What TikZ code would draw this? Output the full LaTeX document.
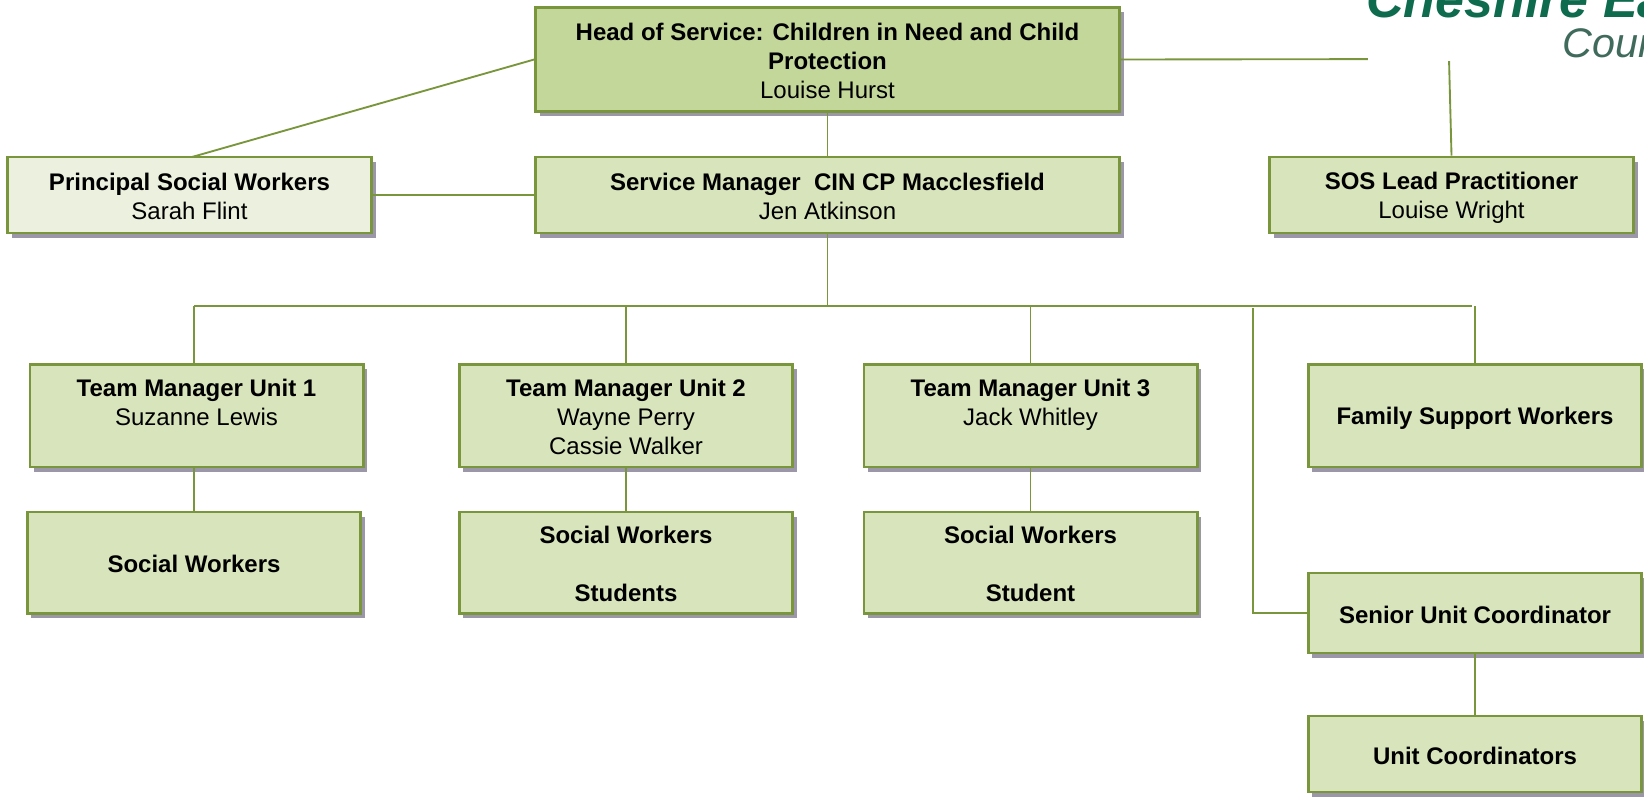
\documentclass[tikz,border=0pt]{standalone}
\usepackage{fontspec}
\setmainfont{Liberation Sans}
\usetikzlibrary{positioning,shadows}
\definecolor{boxline}{HTML}{7A963C}
\definecolor{boxfill}{HTML}{D8E4BC}
\definecolor{headfill}{HTML}{C4D79B}
\definecolor{paleFill}{HTML}{EBF1DE}
\definecolor{boxshade}{HTML}{9C97A8}
\definecolor{logogreen}{HTML}{0E6B4E}
\definecolor{logogrey}{HTML}{3F6A5C}
\newcommand{\boxstrut}{\rule[-2.2pt]{0pt}{19.4pt}}
\newcommand{\lead}[1]{\boxstrut\textbf{#1}}
\newcommand{\who}[1]{\boxstrut #1}
\tikzset{orgbox/.style={rectangle, draw=boxline, line width=2pt, fill=boxfill, align=center, inner sep=0pt,
	font=\fontsize{18}{21.6}\selectfont, text=black,
	drop shadow={shadow xshift=3pt, shadow yshift=-3.5pt, opacity=1, fill=boxshade}}}
\tikzset{wideunit/.style={orgbox, minimum width=250pt}}
\tikzset{sidebox/.style={orgbox, minimum width=273pt, minimum height=57pt}}
\tikzset{conn/.style={draw=boxline, line width=1.4pt}}
\begin{document}
\begin{tikzpicture}[x=0.75pt,y=-0.75pt]
\clip (0,0) rectangle (1644,796);
	\node[sidebox,fill=headfill,minimum width=438pt,minimum height=78pt] at (827.5, 59.5) (head) {\lead{Head of Service: Children in Need and Child}\\
		\lead{Protection}\\
		\who{Louise Hurst}};
	\node[sidebox,minimum width=438pt] at (827.5, 195) (service) {\lead{Service Manager\ \ CIN CP Macclesfield}\\
		\who{Jen Atkinson}};
	\node[sidebox,fill=paleFill] at (189.5, 195) (principal) {\lead{Principal Social Workers}\\
		\who{Sarah Flint}};
	\node[sidebox] at (1451.5, 195) (sos) {\lead{SOS Lead Practitioner}\\
		\who{Louise Wright}};

	\node[wideunit,minimum height=77pt] at (196.5, 415.5) (team1) {\lead{Team Manager Unit 1}\\
		\who{Suzanne Lewis}\\ \boxstrut};
	\node[wideunit,minimum height=77pt] at (626, 415.5) (team2) {\lead{Team Manager Unit 2}\\
		\who{Wayne Perry}\\
		\who{Cassie Walker}};
	\node[wideunit,minimum height=77pt] at (1030.5, 415.5) (team3) {\lead{Team Manager Unit 3}\\
		\who{Jack Whitley}\\ \boxstrut};
	\node[wideunit,minimum height=77pt] at (1475, 415.5) (family) {\lead{Family Support Workers}};

	\node[wideunit,minimum height=76pt] at (194, 562.5) (social1) {\lead{Social Workers}};
	\node[wideunit,minimum height=76pt] at (626, 562.5) (social2) {\lead{Social Workers}\\ \boxstrut\\
		\lead{Students}};
	\node[wideunit,minimum height=76pt] at (1030.5, 562.5) (social3) {\lead{Social Workers}\\ \boxstrut\\
		\lead{Student}};

	\node[wideunit,minimum height=60pt] at (1475, 613) (senior) {\lead{Senior Unit Coordinator}};
	\node[wideunit,minimum height=57pt] at (1475, 754) (coord) {\lead{Unit Coordinators}};

	\coordinate (busL) at (194, 306);
	\coordinate (busR) at (1472, 306);
	\coordinate (busM) at (827.5, 307);
	\coordinate (branch) at (1253, 308);
	\coordinate (sosturn) at (1449, 59);
	\coordinate (princtop) at (192, 157);

	\draw[conn] (head.south) -- (service.north);
	\draw[conn] (principal.east) -- (service.west);
	\draw[conn] (princtop) -- (head.west);
	\draw[conn] (head.east) -- (sosturn) -- (sos.north);

	\draw[conn] (service.south) -- (busM);
	\draw[conn] (busL) -- (busR);
	\draw[conn] (busL) -- (social1 |- team1.north);
	\draw[conn] (team2.north) -- (team2.north |- busL);
	\draw[conn] (team3.north) -- (team3.north |- busL);
	\draw[conn] (family.north) -- (family.north |- busL);
	\draw[conn] (branch) |- (senior.west);

	\draw[conn] (social1 |- team1.south) -- (social1.north);
	\draw[conn] (team2.south) -- (social2.north);
	\draw[conn] (team3.south) -- (social3.north);
	\draw[conn] (senior.south) -- (coord.north);

	% logo patch goes over the corner of the SOS line
	\node[fill=white,inner sep=0pt,minimum width=207pt,minimum height=46pt,anchor=north west] at (1368, -1) (logopatch) {};
	\node[anchor=base west,inner sep=0pt,text=logogreen,font=\fontsize{39}{39}\selectfont\bfseries\itshape] at (1366, 17) (logotop) {Cheshire East};
	\node[anchor=base west,inner sep=0pt,text=logogrey,font=\fontsize{31}{31}\selectfont\itshape] at (1562, 57) (logolow) {Council};
\end{tikzpicture}
\end{document}
